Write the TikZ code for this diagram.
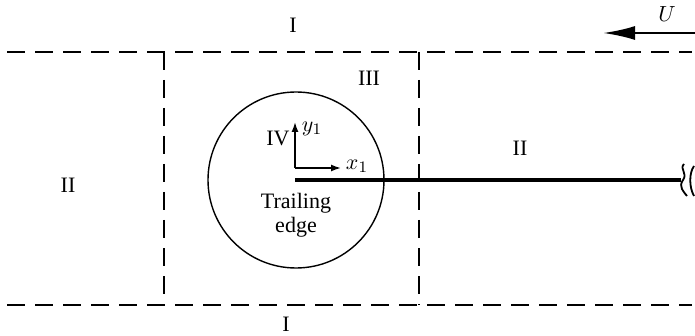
\documentclass[tikz,border=0pt]{standalone}
\usepackage{fontspec}
\setmainfont{Liberation Serif}
\usetikzlibrary{arrows.meta}
\begin{document}
\begin{tikzpicture}[x=0.5pt, y=-0.5pt,
  boundary/.style={line width=1pt, dash pattern=on 9pt off 5pt},
  region/.style={inner sep=0pt, font=\fontsize{11}{13}\selectfont},
  axis/.style={line width=0.8pt, -{Latex[length=5pt, width=3.5pt]}},
  plate/.style={line width=2pt}]
\useasboundingbox (0,0) rectangle (695,336);
% region boundaries
\coordinate (tl) at (7,52);
\coordinate (tr) at (692,52);
\coordinate (bl) at (7,305);
\coordinate (br) at (692,305);
\coordinate (lt) at (164,52);
\coordinate (lb) at (164,305);
\coordinate (rt) at (419,52);
\coordinate (rb) at (419,305);
\draw[boundary] (tl) -- (tr);
\draw[boundary] (bl) -- (br);
\draw[boundary] (lt) -- (lb);
\draw[boundary] (rt) -- (rb);
% inner region round the trailing edge
\node[draw, circle, line width=0.7pt, minimum size=88pt, inner sep=0pt] (edge) at (296,180) {};
% plate
\coordinate (te) at (295,180);
\coordinate (pe) at (681,180);
\draw[plate] (te) -- (pe);
\draw[line width=0.9pt] (684,164) .. controls (679,169) and (688,173) .. (683,180) .. controls (678,187) and (684,192) .. (687,196);
\draw[line width=0.9pt] (694,166) .. controls (689,173) and (689,187) .. (694,196);
% local axes
\coordinate (o) at (295,168);
\coordinate (xa) at (341,168);
\coordinate (ya) at (295,122);
\draw[axis] (o) -- (xa);
\draw[axis] (o) -- (ya);
\node[region] (xlab) at (357,166) {$x_1$};
\node[region] (ylab) at (312,129) {$y_1$};
% free stream
\coordinate (us) at (695,33);
\coordinate (ue) at (603,33);
\draw[line width=1.2pt, -{Latex[length=16pt, width=7pt]}] (us) -- (ue);
\node[region] (U) at (667,14) {$U$};
% region labels
\node[region] (Itop) at (293,25) {I};
\node[region] (Ibot) at (286,324) {I};
\node[region] (IIl) at (68,185) {II};
\node[region] (IIr) at (520,148) {II};
\node[region] (III) at (369,78) {III};
\node[region] (IV) at (278,138) {IV};
\node[region, align=center] (tlab) at (296,215) {Trailing\\[-1pt]edge};
\end{tikzpicture}
\end{document}
